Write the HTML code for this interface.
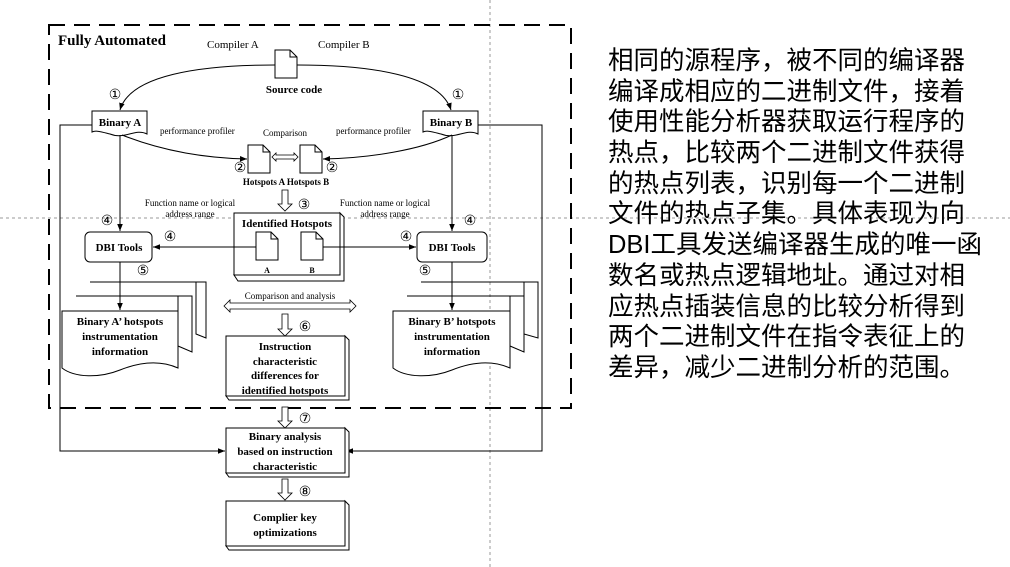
<!DOCTYPE html>
<html><head><meta charset="utf-8"><style>
html,body{margin:0;padding:0;background:#fff;width:1010px;height:567px;overflow:hidden}
svg{display:block}
.s{font-family:"Liberation Serif",serif;fill:#000}
.b{font-weight:bold}
.n{font-family:"Liberation Serif","DejaVu Serif",serif;font-size:14px;fill:#000}
.cn{font-family:"Liberation Sans","Noto Sans CJK SC",sans-serif;font-size:25.5px;fill:#000}
</style></head><body>
<svg width="1010" height="567" viewBox="0 0 1010 567" xmlns="http://www.w3.org/2000/svg">
<defs>
<marker id="ar" viewBox="0 0 10 10" refX="10" refY="5" markerWidth="7" markerHeight="7" orient="auto-start-reverse"><path d="M0,1 L10,5 L0,9 z" fill="#000"/></marker>
<g id="doc"><path d="M0,0 H15 L22,7 V28 H0 Z" fill="#fff" stroke="#000" stroke-width="1"/><path d="M15,0 V7 H22" fill="none" stroke="#000" stroke-width="1"/></g>
</defs>
<line x1="490" y1="0" x2="490" y2="567" stroke="#999" stroke-width="1" stroke-dasharray="3,3"/>
<line x1="0" y1="218" x2="1010" y2="218" stroke="#999" stroke-width="1" stroke-dasharray="3,3"/>
<rect x="49" y="25" width="522" height="383" fill="none" stroke="#000" stroke-width="2" stroke-dasharray="16,9"/>
<text class="s b" x="58" y="45" font-size="15">Fully Automated</text>
<text class="s" x="207" y="48" font-size="11">Compiler A</text>
<text class="s" x="318" y="48" font-size="11">Compiler B</text>
<use href="#doc" x="275" y="50"/>
<text class="s b" x="294" y="93" font-size="11" text-anchor="middle">Source code</text>
<path d="M275,65 C200,65 130,75 120,110" fill="none" stroke="#000" marker-end="url(#ar)"/>
<path d="M297,65 C370,65 440,75 451,110" fill="none" stroke="#000" marker-end="url(#ar)"/>
<text class="n" x="115" y="99" text-anchor="middle">①</text>
<text class="n" x="458" y="99" text-anchor="middle">①</text>
<path d="M92,111 H147 V134 C135,128 125,140 110,134 C102,132 96,130 92,132 Z" fill="#fff" stroke="#000"/>
<text class="s b" x="120" y="126" font-size="11" text-anchor="middle">Binary A</text>
<path d="M423,111 H478 V134 C466,128 456,140 441,134 C433,132 427,130 423,132 Z" fill="#fff" stroke="#000"/>
<text class="s b" x="451" y="126" font-size="11" text-anchor="middle">Binary B</text>
<polyline points="92,125 60,125 60,451 225,451" fill="none" stroke="#000" marker-end="url(#ar)"/>
<polyline points="478,125 542,125 542,451 346,451" fill="none" stroke="#000" marker-end="url(#ar)"/>
<text class="s" x="160" y="134" font-size="9">performance profiler</text>
<text class="s" x="336" y="134" font-size="9">performance profiler</text>
<text class="s" x="285" y="136" font-size="9" text-anchor="middle">Comparison</text>
<path d="M122,135 C160,150 200,158 247,159" fill="none" stroke="#000" marker-end="url(#ar)"/>
<path d="M452,135 C420,150 370,158 323,159" fill="none" stroke="#000" marker-end="url(#ar)"/>
<use href="#doc" x="248" y="145"/>
<use href="#doc" x="300" y="145"/>
<path d="M272,157 L276,153 V155 H294 V153 L298,157 L294,161 V159 H276 V161 Z" fill="#fff" stroke="#000" stroke-width="0.8"/>
<text class="n" x="240" y="172" text-anchor="middle">②</text>
<text class="n" x="332" y="172" text-anchor="middle">②</text>
<text class="s b" x="286" y="185" font-size="9" text-anchor="middle">Hotspots A  Hotspots B</text>
<path d="M282,190 H288 V204 H292 L285,211 L278,204 H282 Z" fill="#fff" stroke="#000" stroke-width="0.8"/>
<text class="n" x="304" y="209" text-anchor="middle">③</text>
<text class="s" x="190" y="206" font-size="9" text-anchor="middle">Function name or logical</text>
<text class="s" x="190" y="217" font-size="9" text-anchor="middle">address range</text>
<text class="s" x="385" y="206" font-size="9" text-anchor="middle">Function name or logical</text>
<text class="s" x="385" y="217" font-size="9" text-anchor="middle">address range</text>
<path d="M234,275 L238,281 H344 V217 L340,213 V275 Z" fill="#fff" stroke="#000"/>
<rect x="234" y="213" width="106" height="62" fill="#fff" stroke="#000"/>
<text class="s b" x="287" y="227" font-size="11" text-anchor="middle">Identified Hotspots</text>
<use href="#doc" x="256" y="232"/>
<use href="#doc" x="301" y="232"/>
<text class="s b" x="267" y="273" font-size="8" text-anchor="middle">A</text>
<text class="s b" x="312" y="273" font-size="8" text-anchor="middle">B</text>
<line x1="256" y1="247" x2="153" y2="247" stroke="#000" marker-end="url(#ar)"/>
<line x1="323" y1="247" x2="416" y2="247" stroke="#000" marker-end="url(#ar)"/>
<line x1="120" y1="135" x2="120" y2="231" stroke="#000" marker-end="url(#ar)"/>
<line x1="452" y1="135" x2="452" y2="231" stroke="#000" marker-end="url(#ar)"/>
<rect x="85" y="232" width="67" height="30" rx="5" fill="#fff" stroke="#000"/>
<text class="s b" x="119" y="251" font-size="11" text-anchor="middle">DBI Tools</text>
<rect x="417" y="232" width="70" height="30" rx="5" fill="#fff" stroke="#000"/>
<text class="s b" x="452" y="251" font-size="11" text-anchor="middle">DBI Tools</text>
<text class="n" x="107" y="225" text-anchor="middle">④</text>
<text class="n" x="470" y="225" text-anchor="middle">④</text>
<text class="n" x="170" y="241" text-anchor="middle">④</text>
<text class="n" x="406" y="241" text-anchor="middle">④</text>
<text class="n" x="143" y="275" text-anchor="middle">⑤</text>
<text class="n" x="425" y="275" text-anchor="middle">⑤</text>
<g fill="#fff" stroke="#000">
<path d="M90,282 H206 V338 L196,334 V282"/>
<path d="M76,296 H192 V352 L178,346 V296"/>
<path d="M62,311 H178 V368 C160,360 140,362 120,370 C100,378 75,378 62,368 Z"/>
<path d="M421,282 H538 V338 L524,334 V282"/>
<path d="M407,296 H524 V352 L510,346 V296"/>
<path d="M393,311 H510 V368 C492,360 472,362 452,370 C432,378 406,378 393,368 Z"/>
</g>
<line x1="120" y1="262" x2="120" y2="310" stroke="#000" marker-end="url(#ar)"/>
<line x1="452" y1="262" x2="452" y2="310" stroke="#000" marker-end="url(#ar)"/>
<g class="s b" font-size="11" text-anchor="middle">
<text x="120" y="325">Binary A’ hotspots</text>
<text x="120" y="340">instrumentation</text>
<text x="120" y="355">information</text>
<text x="452" y="325">Binary B’ hotspots</text>
<text x="452" y="340">instrumentation</text>
<text x="452" y="355">information</text>
</g>
<text class="s" x="290" y="299" font-size="9" text-anchor="middle">Comparison and analysis</text>
<path d="M224,306 L230,300 V303 H350 V300 L356,306 L350,312 V309 H230 V312 Z" fill="#fff" stroke="#000" stroke-width="0.8"/>
<path d="M282,314 H288 V329 H292 L285,336 L278,329 H282 Z" fill="#fff" stroke="#000" stroke-width="0.8"/>
<text class="n" x="305" y="331" text-anchor="middle">⑥</text>
<path d="M282,407 H288 V421 H292 L285,428 L278,421 H282 Z" fill="#fff" stroke="#000" stroke-width="0.8"/>
<text class="n" x="305" y="423" text-anchor="middle">⑦</text>
<path d="M282,479 H288 V493 H292 L285,500 L278,493 H282 Z" fill="#fff" stroke="#000" stroke-width="0.8"/>
<text class="n" x="305" y="496" text-anchor="middle">⑧</text>
<g fill="#fff" stroke="#000">
<path d="M226,396 L229,400 H349 V340 L345,336 V396 Z"/>
<rect x="226" y="336" width="119" height="60"/>
<path d="M226,473 L229,477 H349 V432 L345,428 V473 Z"/>
<rect x="226" y="428" width="119" height="45"/>
<path d="M226,546 L229,550 H349 V505 L345,501 V546 Z"/>
<rect x="226" y="501" width="119" height="45"/>
</g>
<g class="s b" font-size="11" text-anchor="middle">
<text x="285" y="350">Instruction</text>
<text x="285" y="365">characteristic</text>
<text x="285" y="379">differences for</text>
<text x="285" y="394">identified hotspots</text>
<text x="285" y="440">Binary analysis</text>
<text x="285" y="455">based on instruction</text>
<text x="285" y="470">characteristic</text>
<text x="285" y="521">Complier key</text>
<text x="285" y="536">optimizations</text>
</g>
<g class="cn">
<text x="608" y="69">相同的源程序，被不同的编译器</text>
<text x="608" y="100">编译成相应的二进制文件，接着</text>
<text x="608" y="130">使用性能分析器获取运行程序的</text>
<text x="608" y="161">热点，比较两个二进制文件获得</text>
<text x="608" y="192">的热点列表，识别每一个二进制</text>
<text x="608" y="222">文件的热点子集。具体表现为向</text>
<text x="608" y="253">DBI工具发送编译器生成的唯一函</text>
<text x="608" y="284">数名或热点逻辑地址。通过对相</text>
<text x="608" y="315">应热点插装信息的比较分析得到</text>
<text x="608" y="345">两个二进制文件在指令表征上的</text>
<text x="608" y="376">差异，减少二进制分析的范围。</text>
</g>
</svg>
</body></html>
